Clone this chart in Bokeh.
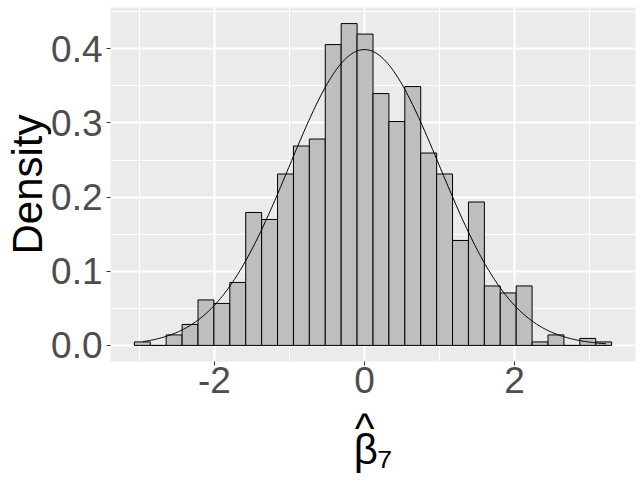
import numpy as np
from bokeh.plotting import figure
from bokeh.models import Range1d, FixedTicker
from bokeh.embed import file_html
from bokeh.resources import INLINE

# ---- data ----
counts = [1, 0, 3, 6, 13, 12, 18, 38, 36, 49, 57, 59, 86, 92, 89,
          72, 64, 74, 55, 49, 30, 41, 17, 15, 17, 1, 3, 0, 2, 1]
n_obs = 1000
bin_start = -3.066
bin_width = 0.212
curve_from = -2.95
curve_to = 3.22
x_ticks = [-2, 0, 2]
x_minor = [-3, -1, 1, 3]
x_tick_labels = ["-2", "0", "2"]
y_ticks = [0.0, 0.1, 0.2, 0.3, 0.4]
y_minor = [0.05, 0.15, 0.25, 0.35, 0.45]
y_tick_labels = ["0.0", "0.1", "0.2", "0.3", "0.4"]
x_title = "^\u2009\u2009\nβ\u2087"
y_title = "Density"

# ---- derived ----
counts_a = np.array(counts, dtype=float)
density = counts_a / (n_obs * bin_width)
lefts = bin_start + bin_width * np.arange(len(counts))
rights = lefts + bin_width

xs = np.linspace(curve_from, curve_to, 300)
ys = np.exp(-xs ** 2 / 2) / np.sqrt(2 * np.pi)

xmin, xmax = lefts[0], rights[-1]
ymin, ymax = 0.0, density.max()
ex = 0.05 * (xmax - xmin)
ey = 0.05 * (ymax - ymin)
x0, x1 = xmin - ex, xmax + ex
y0, y1 = ymin - ey, ymax + ey

FONT = "Liberation Sans"

p = figure(width=643, height=483, output_backend="svg", toolbar_location=None,
           x_range=Range1d(x0, x1), y_range=Range1d(y0, y1),
           min_border_left=110, min_border_bottom=122, min_border_top=7,
           min_border_right=8)
p.background_fill_color = "#EBEBEB"
p.border_fill_color = "white"
p.outline_line_color = None

p.xaxis.ticker = FixedTicker(ticks=x_ticks, minor_ticks=x_minor)
p.yaxis.ticker = FixedTicker(ticks=y_ticks, minor_ticks=y_minor)
p.xaxis.major_label_overrides = {t: s for t, s in zip(x_ticks, x_tick_labels)}
p.yaxis.major_label_overrides = {t: s for t, s in zip(y_ticks, y_tick_labels)}

for ax in (p.xaxis, p.yaxis):
    ax.axis_line_color = None
    ax.major_tick_in = 0
    ax.major_tick_out = 4
    ax.major_tick_line_color = "#333333"
    ax.major_tick_line_width = 1
    ax.minor_tick_line_color = None
    ax.major_label_text_font = FONT
    ax.major_label_text_font_size = "37px"
    ax.major_label_text_color = "#4D4D4D"
    ax.axis_label_text_font = FONT
    ax.axis_label_text_font_style = "normal"
    ax.axis_label_text_color = "black"
    ax.axis_label_text_font_size = "42px"
p.xaxis.major_label_standoff = 1
p.yaxis.major_label_standoff = 4

p.yaxis.axis_label = y_title
p.yaxis.axis_label_standoff = -3
p.yaxis.axis_label_text_line_height = 1.0
p.xaxis.axis_label = x_title
p.xaxis.axis_label_standoff = 9
p.xaxis.axis_label_text_line_height = 0.45

for g in (p.xgrid, p.ygrid):
    g.grid_line_color = "white"
    g.grid_line_width = 2
    g.minor_grid_line_color = "white"
    g.minor_grid_line_width = 1

p.quad(left=lefts, right=rights, top=density, bottom=0,
       fill_color="#BEBEBE", line_color="black", line_width=1)
p.line(xs, ys, line_color="black", line_width=1)

open("out.html", "w").write(file_html(p, INLINE))
